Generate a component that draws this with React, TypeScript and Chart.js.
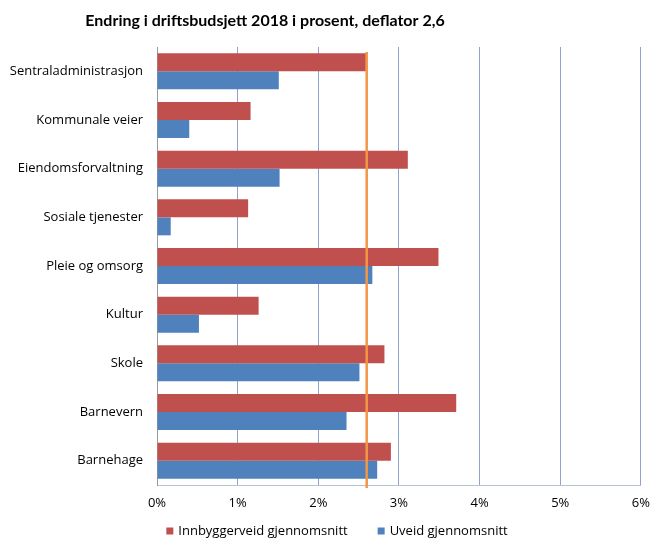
import React, { useEffect, useRef } from "react";
import { Chart, registerables } from "chart.js";

Chart.register(...registerables);

const categories = [
  "Sentraladministrasjon",
  "Kommunale veier",
  "Eiendomsforvaltning",
  "Sosiale tjenester",
  "Pleie og omsorg",
  "Kultur",
  "Skole",
  "Barnevern",
  "Barnehage",
];
const innbyggerveid = [2.59, 1.16, 3.11, 1.13, 3.49, 1.26, 2.82, 3.71, 2.9];
const uveid = [1.51, 0.4, 1.52, 0.17, 2.67, 0.52, 2.51, 2.35, 2.73];
const deflator = 2.6;
const xMin = 0;
const xMax = 6;
const xStep = 1;
const seriesLabels = ["Innbyggerveid gjennomsnitt", "Uveid gjennomsnitt"];
const chartTitle = "Endring i driftsbudsjett 2018 i prosent, deflator 2,6";

const FONT = "'Open Sans', sans-serif";
const TITLE_FONT = "Lato, 'Open Sans', sans-serif";
const RED = "#C0504D";
const BLUE = "#4F81BD";
const ORANGE = "#F39645";

const deflatorLine = {
  id: "deflatorLine",
  afterDatasetsDraw(chart: any) {
    const { ctx, chartArea, scales } = chart;
    const x = scales.x.getPixelForValue(deflator);
    ctx.save();
    ctx.strokeStyle = ORANGE;
    ctx.lineWidth = 2.5;
    ctx.beginPath();
    ctx.moveTo(x, chartArea.top + 5);
    ctx.lineTo(x, chartArea.bottom + 3);
    ctx.stroke();
    ctx.restore();
  },
};

const customTitle = {
  id: "customTitle",
  afterDraw(chart: any) {
    const { ctx } = chart;
    ctx.save();
    ctx.font = `bold 16px ${TITLE_FONT}`;
    ctx.fillStyle = "#000";
    ctx.textAlign = "center";
    ctx.textBaseline = "alphabetic";
    ctx.fillText(chartTitle, 265, 25.5);
    ctx.restore();
  },
};

const customLegend = {
  id: "customLegend",
  afterDraw(chart: any) {
    const { ctx } = chart;
    const ds = chart.data.datasets;
    ctx.save();
    ctx.font = `13px ${FONT}`;
    ctx.textBaseline = "middle";
    ctx.fillStyle = "#000";
    const box = 7;
    const gapText = 5;
    const gapItem = 30;
    const widths = ds.map((d: any) => ctx.measureText(d.label).width);
    let total = 0;
    widths.forEach((w: number, i: number) => {
      total += box + gapText + w + (i < widths.length - 1 ? gapItem : 0);
    });
    let x = chart.width / 2 + 7 - total / 2;
    const y = 531;
    ds.forEach((d: any, i: number) => {
      ctx.fillStyle = d.backgroundColor;
      ctx.fillRect(x, y - box / 2, box, box);
      x += box + gapText;
      ctx.fillStyle = "#000";
      ctx.textAlign = "left";
      ctx.fillText(d.label, x, y);
      x += widths[i] + gapItem;
    });
    ctx.restore();
  },
};

export default function App() {
  const ref = useRef<HTMLCanvasElement | null>(null);
  useEffect(() => {
    if (!ref.current) return;
    const chart = new Chart(ref.current, {
      type: "bar",
      data: {
        labels: categories,
        datasets: [
          {
            label: seriesLabels[0],
            data: innbyggerveid,
            backgroundColor: RED,
            categoryPercentage: 0.74,
            barPercentage: 1.0,
          },
          {
            label: seriesLabels[1],
            data: uveid,
            backgroundColor: BLUE,
            categoryPercentage: 0.74,
            barPercentage: 1.0,
          },
        ],
      },
      options: {
        indexAxis: "y",
        animation: false,
        responsive: false,
        layout: { padding: { left: 0, right: 13, top: 47, bottom: 16 } },
        plugins: {
          legend: { display: false },
          tooltip: { enabled: false },
          title: { display: false },
        },
        scales: {
          x: {
            min: xMin,
            max: xMax,
            ticks: {
              stepSize: xStep,
              callback: (v: any) => `${v}%`,
              color: "#000",
              font: { family: FONT, size: 13 },
              padding: 10,
            },
            grid: { color: "#8EA4CC", drawTicks: false },
            border: { color: "#B8C2D6" },
            afterFit: (s: any) => {
              s.height = 40;
            },
          },
          y: {
            grid: { display: false, drawTicks: false },
            border: { color: "#9B9B9B" },
            ticks: {
              color: "#000",
              font: { family: FONT, size: 13 },
              padding: 14,
            },
            afterFit: (s: any) => {
              s.width = 157;
            },
          },
        },
      },
      plugins: [deflatorLine, customTitle, customLegend],
    });
    return () => chart.destroy();
  }, []);
  return (
    <div style={{ position: "absolute", left: 0, top: 0, width: 660, height: 541, background: "#fff" }}>
      <canvas ref={ref} width={660} height={541} style={{ display: "block" }} />
    </div>
  );
}
